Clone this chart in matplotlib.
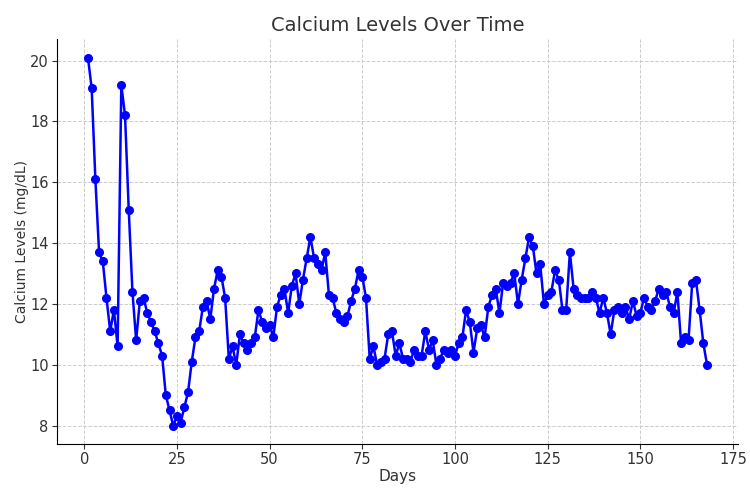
import numpy as np
import matplotlib
matplotlib.use("Agg")
import matplotlib.pyplot as plt

# daily calcium readings
days = list(range(1, 169))
calcium = [
    20.1, 19.1, 16.1, 13.7, 13.4, 12.2, 11.1, 11.8, 10.6, 19.2,
    18.2, 15.1, 12.4, 10.8, 12.1, 12.2, 11.7, 11.4, 11.1, 10.7,
    10.3, 9.0, 8.5, 8.0, 8.3, 8.1, 8.6, 9.1, 10.1, 10.9,
    11.1, 11.9, 12.1, 11.5, 12.5, 13.1, 12.9, 12.2, 10.2, 10.6,
    10.0, 11.0, 10.7, 10.5, 10.7, 10.9, 11.8, 11.4, 11.2, 11.3,
    10.9, 11.9, 12.3, 12.5, 11.7, 12.6, 13.0, 12.0, 12.8, 13.5,
    14.2, 13.5, 13.3, 13.1, 13.7, 12.3, 12.2, 11.7, 11.5, 11.4,
    11.6, 12.1, 12.5, 13.1, 12.9, 12.2, 10.2, 10.6, 10.0, 10.1,
    10.2, 11.0, 11.1, 10.3, 10.7, 10.2, 10.2, 10.1, 10.5, 10.3,
    10.3, 11.1, 10.5, 10.8, 10.0, 10.2, 10.5, 10.4, 10.5, 10.3,
    10.7, 10.9, 11.8, 11.4, 10.4, 11.2, 11.3, 10.9, 11.9, 12.3,
    12.5, 11.7, 12.7, 12.6, 12.7, 13.0, 12.0, 12.8, 13.5, 14.2,
    13.9, 13.0, 13.3, 12.0, 12.3, 12.4, 13.1, 12.8, 11.8, 11.8,
    13.7, 12.5, 12.3, 12.2, 12.2, 12.2, 12.4, 12.2, 11.7, 12.2,
    11.7, 11.0, 11.8, 11.9, 11.7, 11.9, 11.5, 12.1, 11.6, 11.7,
    12.2, 11.9, 11.8, 12.1, 12.5, 12.3, 12.4, 11.9, 11.7, 12.4,
    10.7, 10.9, 10.8, 12.7, 12.8, 11.8, 10.7, 10.0,
]

text_color = "#333333"

fig = plt.figure(figsize=(7.5, 4.9), dpi=100)
ax = fig.add_axes([0.076, 0.094, 0.908, 0.826])

ax.plot(days, calcium, color="#0000ff", marker="o", markersize=5.5, linewidth=1.8)

ax.set_title("Calcium Levels Over Time", fontsize=14, color=text_color, pad=6)
ax.set_xlabel("Days", fontsize=11, color=text_color, labelpad=1)
ax.set_ylabel("Calcium Levels (mg/dL)", fontsize=10, color=text_color, labelpad=1)

ax.set_xticks(np.arange(0, 176, 25))
ax.set_yticks(np.arange(8, 21, 2))
ax.tick_params(labelsize=10.5, colors=text_color, pad=2.5)

ax.grid(True, linestyle="--", linewidth=0.7, color="#cccccc")
ax.set_axisbelow(True)
for side in ("top", "right"):
    ax.spines[side].set_visible(False)

fig.savefig("out.png", dpi=100)
